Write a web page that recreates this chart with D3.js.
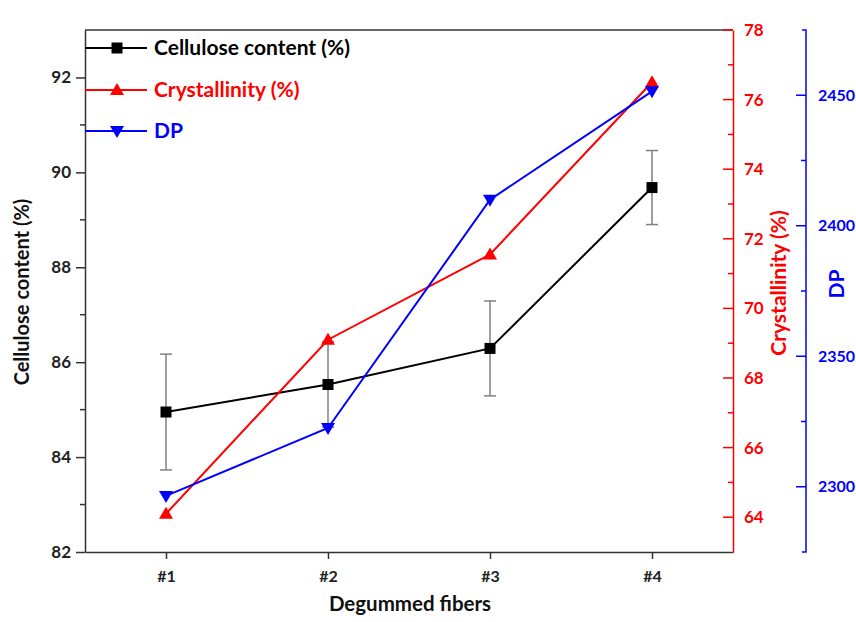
<!DOCTYPE html>
<html>
<head>
<meta charset="utf-8">
<script src="https://cdn.jsdelivr.net/npm/d3@7"></script>
<style>
  body { margin: 0; background: #fff; }
  text { font-family: Lato, "Open Sans", sans-serif; font-weight: 700; }
</style>
</head>
<body>
<div id="chart"></div>
<script>
// Data
const samples = ["#1", "#2", "#3", "#4"];
const cellulose = [84.95, 85.53, 86.29, 89.68];
const celluloseErr = [1.22, 0.9, 1.0, 0.78];
const crystallinity = [64.1, 69.1, 71.55, 76.5];
const dp = [2296.5, 2322.5, 2410, 2451.5];

const leftTicks = [82, 84, 86, 88, 90, 92];
const redTicks = [64, 66, 68, 70, 72, 74, 76, 78];
const blueTicks = [2300, 2350, 2400, 2450];

const width = 856, height = 622;
const x0 = 85, x1 = 733, yTop = 30, yBot = 552;

const svg = d3.select("#chart").append("svg")
    .attr("width", width)
    .attr("height", height);

// Scales
const x = d3.scaleLinear().domain([0.5, 4.5]).range([x0, x1]);
const yL = d3.scaleLinear().domain([82, 93]).range([yBot, yTop]);
const yR = d3.scaleLinear().domain([63, 78]).range([yBot, yTop]);
const yB = d3.scaleLinear().domain([2275, 2475]).range([yBot, yTop]);

// Top frame line
svg.append("line")
    .attr("x1", x0).attr("x2", x1).attr("y1", yTop).attr("y2", yTop)
    .attr("stroke", "#333").attr("stroke-width", 1.5);

// Helper to style axis
function styleAxis(g, color, size) {
    g.select(".domain").attr("stroke", color).attr("stroke-width", 1.5);
    g.selectAll(".tick line").attr("stroke", color).attr("stroke-width", 1.5);
    g.selectAll(".tick text").attr("fill", color)
        .style("font-size", size + "px");
}

// Left axis
const gL = svg.append("g").attr("transform", `translate(${x0},0)`)
    .call(d3.axisLeft(yL).tickValues(leftTicks).tickSize(9).tickSizeOuter(0).tickPadding(5));
styleAxis(gL, "#333", 17);
gL.selectAll(".tick text").attr("fill", "#222");
gL.selectAll(".minor").data(d3.range(83, 93, 2)).enter().append("line")
    .attr("x1", -5).attr("x2", 0)
    .attr("y1", d => yL(d)).attr("y2", d => yL(d))
    .attr("stroke", "#333").attr("stroke-width", 1.5);

// Bottom axis
const gX = svg.append("g").attr("transform", `translate(0,${yBot})`)
    .call(d3.axisBottom(x).tickValues([1, 2, 3, 4]).tickFormat((d, i) => samples[i])
        .tickSize(7).tickSizeOuter(0).tickPadding(12));
styleAxis(gX, "#333", 16);
gX.selectAll(".tick text").attr("fill", "#222");

// Red (crystallinity) axis
const gR = svg.append("g").attr("transform", `translate(${x1},0)`)
    .call(d3.axisRight(yR).tickValues(redTicks).tickSize(0).tickPadding(11));
styleAxis(gR, "#ff0000", 17);
gR.selectAll(".tickIn").data(redTicks).enter().append("line")
    .attr("x1", -10).attr("x2", 0)
    .attr("y1", d => yR(d)).attr("y2", d => yR(d))
    .attr("stroke", "#ff0000").attr("stroke-width", 1.5);
gR.selectAll(".minor").data(d3.range(65, 78, 2)).enter().append("line")
    .attr("x1", -5).attr("x2", 0)
    .attr("y1", d => yR(d)).attr("y2", d => yR(d))
    .attr("stroke", "#ff0000").attr("stroke-width", 1.5);

// Blue (DP) axis
const xBlue = 806;
const gB = svg.append("g").attr("transform", `translate(${xBlue},0)`)
    .call(d3.axisRight(yB).tickValues(blueTicks).tickFormat(d3.format("d")).tickSize(0).tickPadding(12));
styleAxis(gB, "#0000ff", 16);
gB.select(".domain").attr("d", `M-4,${yTop}H0V${yBot}H-4`);
gB.selectAll(".tickIn").data(blueTicks).enter().append("line")
    .attr("x1", -10).attr("x2", 0)
    .attr("y1", d => yB(d)).attr("y2", d => yB(d))
    .attr("stroke", "#0000ff").attr("stroke-width", 1.5);
gB.selectAll(".minor").data([2325, 2375, 2425]).enter().append("line")
    .attr("x1", -5).attr("x2", 0)
    .attr("y1", d => yB(d)).attr("y2", d => yB(d))
    .attr("stroke", "#0000ff").attr("stroke-width", 1.5);

// Axis titles
svg.append("text")
    .attr("transform", `translate(29,292) rotate(-90)`)
    .attr("text-anchor", "middle").attr("fill", "#111")
    .style("font-size", "20px").text("Cellulose content (%)");
svg.append("text")
    .attr("transform", `translate(786,283) rotate(-90)`)
    .attr("text-anchor", "middle").attr("fill", "#ff0000")
    .style("font-size", "21px").text("Crystallinity (%)");
svg.append("text")
    .attr("transform", `translate(844,284) rotate(-90)`)
    .attr("text-anchor", "middle").attr("fill", "#0000ff")
    .style("font-size", "21px").text("DP");
svg.append("text")
    .attr("x", 410).attr("y", 611)
    .attr("text-anchor", "middle").attr("fill", "#111")
    .style("font-size", "20.5px").text("Degummed fibers");

// Error bars (cellulose)
const eb = svg.append("g").attr("stroke", "#808080").attr("stroke-width", 1.5);
cellulose.forEach((v, i) => {
    const cx = x(i + 1);
    const lo = yL(v - celluloseErr[i]), hi = yL(v + celluloseErr[i]);
    eb.append("line").attr("x1", cx).attr("x2", cx).attr("y1", lo).attr("y2", hi);
    eb.append("line").attr("x1", cx - 6).attr("x2", cx + 6).attr("y1", lo).attr("y2", lo);
    eb.append("line").attr("x1", cx - 6).attr("x2", cx + 6).attr("y1", hi).attr("y2", hi);
});

// Lines and markers
const series = [
    { values: cellulose, y: yL, color: "#000", marker: "square" },
    { values: crystallinity, y: yR, color: "#ff0000", marker: "up" },
    { values: dp, y: yB, color: "#0000ff", marker: "down" }
];

function drawMarker(g, m, color) {
    if (m === "square") g.append("rect").attr("x", -5.5).attr("y", -5.5).attr("width", 11).attr("height", 11).attr("fill", color);
    else if (m === "up") g.append("path").attr("d", "M0,-7L7,5L-7,5Z").attr("fill", color);
    else g.append("path").attr("d", "M-7,-5L7,-5L0,7Z").attr("fill", color);
}

series.forEach(s => {
    const line = d3.line().x((d, i) => x(i + 1)).y(d => s.y(d));
    svg.append("path").datum(s.values)
        .attr("d", line).attr("fill", "none")
        .attr("stroke", s.color).attr("stroke-width", 2);
    s.values.forEach((v, i) => {
        const g = svg.append("g").attr("transform", `translate(${x(i + 1)},${s.y(v)})`);
        drawMarker(g, s.marker, s.color);
    });
});

// Legend
const legend = [
    { label: "Cellulose content (%)", color: "#000", marker: "square", y: 48 },
    { label: "Crystallinity (%)", color: "#ff0000", marker: "up", y: 90 },
    { label: "DP", color: "#0000ff", marker: "down", y: 131 }
];
legend.forEach(l => {
    svg.append("line").attr("x1", x0).attr("x2", 147).attr("y1", l.y).attr("y2", l.y)
        .attr("stroke", l.color).attr("stroke-width", 2);
    const g = svg.append("g").attr("transform", `translate(117,${l.y})`);
    drawMarker(g, l.marker, l.color);
    svg.append("text").attr("x", 154).attr("y", l.y + 7)
        .attr("fill", l.color).style("font-size", "21px").text(l.label);
});
</script>
</body>
</html>
